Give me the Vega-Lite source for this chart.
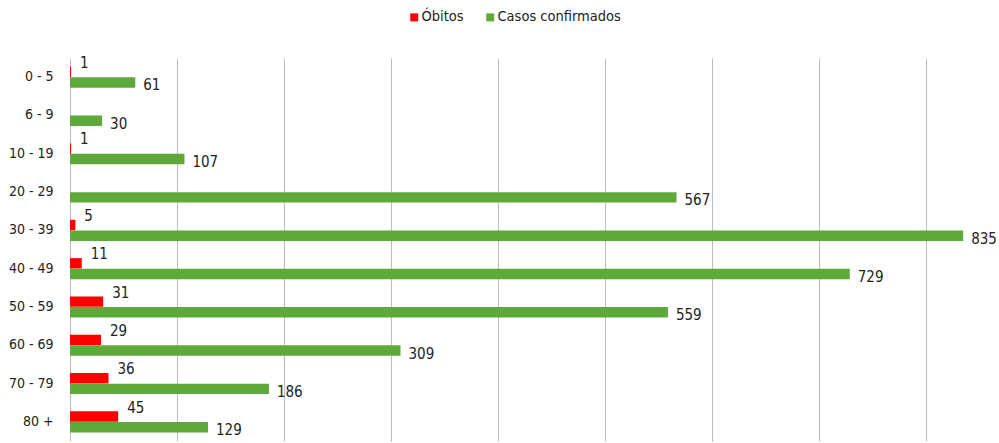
{
  "$schema": "https://vega.github.io/schema/vega-lite/v6.json",
  "width": 929,
  "height": 383,
  "autosize": {"type": "none"},
  "padding": {"left": 70, "top": 58, "right": 0, "bottom": 2},
  "background": "white",
  "config": {
    "view": {"stroke": null},
    "font": "DejaVu Sans Condensed",
    "text": {"font": "DejaVu Sans Condensed"}
  },
  "data": {
    "values": [
      {"faixa": "0 - 5", "serie": "Óbitos", "valor": 1},
      {"faixa": "0 - 5", "serie": "Casos confirmados", "valor": 61},
      {"faixa": "6 - 9", "serie": "Casos confirmados", "valor": 30},
      {"faixa": "10 - 19", "serie": "Óbitos", "valor": 1},
      {"faixa": "10 - 19", "serie": "Casos confirmados", "valor": 107},
      {"faixa": "20 - 29", "serie": "Casos confirmados", "valor": 567},
      {"faixa": "30 - 39", "serie": "Óbitos", "valor": 5},
      {"faixa": "30 - 39", "serie": "Casos confirmados", "valor": 835},
      {"faixa": "40 - 49", "serie": "Óbitos", "valor": 11},
      {"faixa": "40 - 49", "serie": "Casos confirmados", "valor": 729},
      {"faixa": "50 - 59", "serie": "Óbitos", "valor": 31},
      {"faixa": "50 - 59", "serie": "Casos confirmados", "valor": 559},
      {"faixa": "60 - 69", "serie": "Óbitos", "valor": 29},
      {"faixa": "60 - 69", "serie": "Casos confirmados", "valor": 309},
      {"faixa": "70 - 79", "serie": "Óbitos", "valor": 36},
      {"faixa": "70 - 79", "serie": "Casos confirmados", "valor": 186},
      {"faixa": "80 +", "serie": "Óbitos", "valor": 45},
      {"faixa": "80 +", "serie": "Casos confirmados", "valor": 129}
    ]
  },
  "encoding": {
    "y": {
      "field": "faixa",
      "type": "nominal",
      "sort": ["0 - 5", "6 - 9", "10 - 19", "20 - 29", "30 - 39", "40 - 49", "50 - 59", "60 - 69", "70 - 79", "80 +"],
      "scale": {"paddingInner": 0.45, "paddingOuter": 0.225},
      "axis": {
        "title": null,
        "domain": false,
        "ticks": false,
        "labelPadding": 17,
        "labelFont": "DejaVu Sans Condensed",
        "labelFontSize": 14,
        "labelColor": "#222222"
      }
    },
    "yOffset": {
      "field": "serie",
      "type": "nominal",
      "scale": {"domain": ["Óbitos", "Casos confirmados"], "paddingInner": 0.02}
    },
    "x": {
      "field": "valor",
      "type": "quantitative",
      "scale": {"domain": [0, 868.5], "nice": false, "zero": true},
      "axis": {
        "title": null,
        "values": [0, 100, 200, 300, 400, 500, 600, 700, 800],
        "labels": false,
        "ticks": false,
        "domain": false,
        "grid": true,
        "gridColor": "#bdbdbd",
        "gridWidth": 1
      }
    }
  },
  "layer": [
    {
      "mark": {"type": "bar"},
      "encoding": {
        "color": {
          "field": "serie",
          "type": "nominal",
          "scale": {"domain": ["Óbitos", "Casos confirmados"], "range": ["#ff0000", "#5fa83a"]},
          "legend": {
            "title": null,
            "orient": "none",
            "direction": "horizontal",
            "legendX": 337,
            "legendY": -48,
            "symbolType": "square",
            "symbolSize": 64,
            "symbolStrokeWidth": 0,
            "labelFont": "DejaVu Sans Condensed",
            "labelFontSize": 14.5,
            "labelColor": "#222222",
            "labelOffset": 0,
            "columnPadding": 19
          }
        }
      }
    },
    {
      "transform": [{"filter": "datum.serie == 'Óbitos'"}],
      "mark": {"type": "text", "align": "left", "baseline": "middle", "dx": 9, "dy": -9, "fontSize": 15, "color": "#222222"},
      "encoding": {"text": {"field": "valor", "type": "quantitative"}}
    },
    {
      "transform": [{"filter": "datum.serie == 'Casos confirmados'"}],
      "mark": {"type": "text", "align": "left", "baseline": "middle", "dx": 8, "dy": 3, "fontSize": 15, "color": "#222222"},
      "encoding": {"text": {"field": "valor", "type": "quantitative"}}
    }
  ]
}
